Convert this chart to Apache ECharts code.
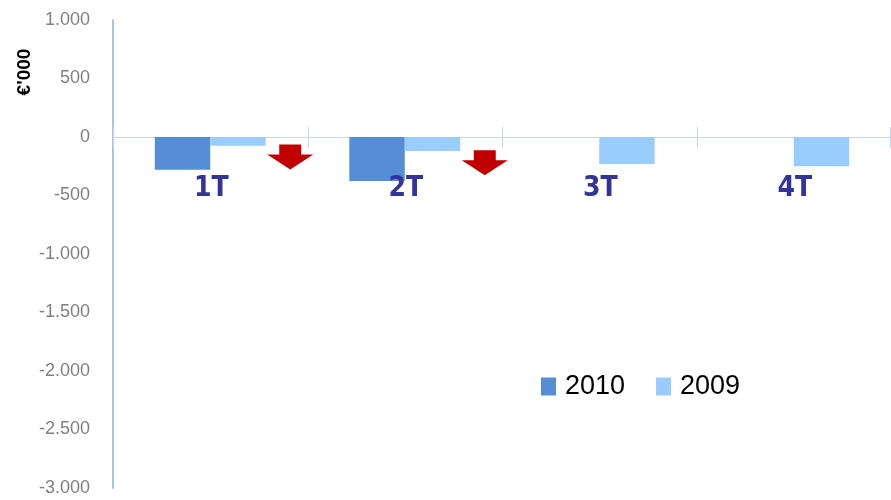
<!DOCTYPE html>
<html>
<head>
<meta charset="utf-8">
<title>Trimestri 2010 vs 2009</title>
<script src="https://cdn.jsdelivr.net/npm/echarts@6/dist/echarts.min.js"></script>
<style>
  html, body { margin: 0; padding: 0; background: #fff; }
  #chart { width: 891px; height: 500px; }
</style>
</head>
<body>
<div id="chart"></div>
<script>
// dati (€'000)
var categories = ["1T", "2T", "3T", "4T"];
var values2010 = [-280, -375, null, null];
var values2009 = [-75, -120, -230, -250];
// frecce rosse (calo), posizione in valore sull'asse
var arrowValues = [-170, -220, null, null];
var yTicks = { min: -3000, max: 1000, interval: 500 };

var chart = echarts.init(document.getElementById("chart"));

function fmtThousands(v) {
  var s = Math.abs(v).toString().replace(/\B(?=(\d{3})+(?!\d))/g, ".");
  return (v < 0 ? "-" : "") + s;
}

var arrowPath = "path://M12,0 L34,0 L34,10 L46,10 L23,25 L0,10 L12,10 Z";
var tickColor = "#c6d6f0";

// tacche che attraversano la linea dello zero + etichette trimestre sotto lo zero
function renderTicks(params, api) {
  var idx = api.value(0);
  var c = api.coord([idx, 0]);
  var band = api.size([1, 0])[0];
  var xs = [c[0] - band / 2];
  if (idx === categories.length - 1) xs.push(c[0] + band / 2 - 1);
  var children = xs.map(function (x) {
    return {
      type: "line",
      shape: { x1: Math.round(x) + 0.5, y1: c[1] - 10, x2: Math.round(x) + 0.5, y2: c[1] + 11 },
      style: { stroke: tickColor, lineWidth: 1 }
    };
  });
  children.push({
    type: "text",
    x: c[0] + 1,
    y: c[1] + 38,
    z2: 10,
    style: {
      text: categories[idx],
      font: "bold 28px 'Liberation Sans Narrow', 'DejaVu Sans Condensed', Arial, sans-serif",
      fill: "#33339a",
      align: "center",
      verticalAlign: "top"
    }
  });
  return { type: "group", children: children };
}

chart.setOption({
  backgroundColor: "#ffffff",
  animation: false,
  grid: {
    left: 113,
    right: 0,
    top: 20,
    bottom: 12,
    containLabel: false,
    outerBoundsMode: "none"
  },
  legend: {
    data: ["2010", "2009"],
    left: 536,
    top: 368,
    icon: "rect",
    itemWidth: 15,
    itemHeight: 18,
    itemGap: 31,
    textStyle: {
      fontFamily: "Liberation Sans, Arial, sans-serif",
      fontSize: 27,
      color: "#000",
      padding: [0, 0, 0, 4]
    }
  },
  graphic: [
    {
      type: "text",
      x: 25,
      y: 72,
      rotation: Math.PI / 2,
      style: {
        text: "€'000",
        font: "bold 19px 'Liberation Sans', Arial, sans-serif",
        fill: "#000",
        align: "center",
        verticalAlign: "middle"
      }
    }
  ],
  xAxis: {
    type: "category",
    data: categories,
    axisLine: { onZero: true, lineStyle: { color: tickColor, width: 1 } },
    axisTick: { show: false },
    axisLabel: { show: false },
    splitLine: { show: false }
  },
  yAxis: {
    type: "value",
    min: yTicks.min,
    max: yTicks.max,
    interval: yTicks.interval,
    axisLine: { show: true, lineStyle: { color: "#a9c2ea", width: 2 } },
    axisTick: { show: false },
    splitLine: { show: false },
    axisLabel: {
      margin: 23,
      fontFamily: "Liberation Sans, Arial, sans-serif",
      fontSize: 18,
      color: "#808080",
      formatter: function (v) {
        return fmtThousands(v);
      }
    }
  },
  series: [
    {
      name: "2010",
      type: "bar",
      data: values2010,
      barGap: "0%",
      barCategoryGap: "43%",
      itemStyle: { color: "#558ed5" },
      silent: true,
      z: 2
    },
    {
      name: "2009",
      type: "bar",
      data: values2009,
      barGap: "0%",
      barCategoryGap: "43%",
      itemStyle: { color: "#99ccff" },
      silent: true,
      z: 2
    },
    {
      name: "calo",
      type: "scatter",
      data: arrowValues,
      symbol: arrowPath,
      symbolSize: [46, 25],
      symbolOffset: [80, 0],
      itemStyle: { color: "#c00000", opacity: 1 },
      silent: true
    },
    {
      name: "trimestri",
      type: "custom",
      data: categories.map(function (c, i) { return [i]; }),
      renderItem: renderTicks,
      silent: true,
      z: 5
    }
  ]
});
</script>
</body>
</html>
